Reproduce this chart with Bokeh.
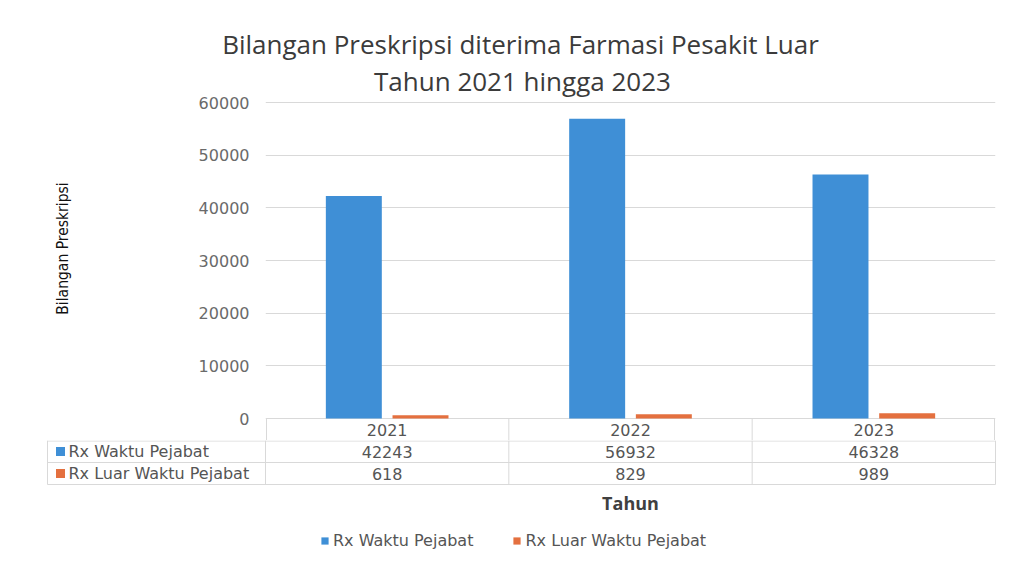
import math
from bokeh.plotting import figure
from bokeh.models import (Range1d, FactorRange, Legend, LegendItem,
                          ColumnDataSource, FixedTicker)
from bokeh.layouts import column, row
from bokeh.core.properties import value
from bokeh.transform import dodge
from bokeh.embed import file_html
from bokeh.resources import INLINE

# ---------------- data ----------------
years = ["2021", "2022", "2023"]
rx_waktu = [42243, 56932, 46328]
rx_luar = [618, 829, 989]
series_names = ["Rx Waktu Pejabat", "Rx Luar Waktu Pejabat"]
colors = ["#3f8fd6", "#e4703f"]
title_lines = ["Bilangan Preskripsi diterima Farmasi Pesakit Luar",
               "Tahun 2021 hingga 2023"]
y_label = "Bilangan Preskripsi"
x_label = "Tahun"
y_ticks = [0, 10000, 20000, 30000, 40000, 50000, 60000]

# ---------------- layout constants (pixels) ----------------
TITLE_FONT = "Open Sans"
TITLE_SIZE = "26px"
TXT_FONT = "DejaVu Sans"
NARROW = "'DejaVu Sans Condensed', 'Liberation Sans Narrow', sans-serif"
TXT_COLOR = "#555555"
TITLE_COLOR = "#3b3b3b"
LINE_C = "#d9d9d9"
WTOT = 1011
H_T = 62            # strip with the first title line
TITLE_Y = (43.5, 80.5)
ZERO_Y = 418        # pixel row of value 0
FRAME_BOT = 440     # bottom of the year row
H_B = 130           # value rows + legend
W_L = 130           # strip holding the y-axis title
FRAME_L, FRAME_R = 265, 995
PLOT_PX = 316       # pixels for the 0..60000 span
ROW_H = FRAME_BOT - ZERO_Y
H_M = FRAME_BOT - H_T
n = len(years)
PX = (FRAME_R - FRAME_L) / n   # pixels per category
y_max = max(y_ticks)
per_px = y_max / PLOT_PX

common = dict(output_backend="svg", toolbar_location=None,
              outline_line_color=None, background_fill_color=None,
              border_fill_color="white", frame_align=False)

# ---------------- first title line ----------------
pt = figure(width=WTOT, height=H_T, x_range=Range1d(0, WTOT),
            y_range=Range1d(H_T, 0), x_axis_location=None,
            y_axis_location=None, min_border=0, **common)
pt.grid.visible = False
pt.text(x=[520], y=[TITLE_Y[0]], text=[title_lines[0]], text_align="center",
        text_baseline="middle", text_font=value(TITLE_FONT),
        text_font_size=TITLE_SIZE, text_color=TITLE_COLOR)

# ---------------- y-axis title strip ----------------
pl = figure(width=W_L, height=H_M, x_range=Range1d(0, W_L),
            y_range=Range1d(FRAME_BOT, H_T), x_axis_location=None,
            y_axis_location=None, min_border=0, **common)
pl.grid.visible = False
pl.text(x=[62], y=[248], text=[y_label], angle=math.pi / 2,
        text_align="center", text_baseline="middle",
        text_font=value(NARROW), text_font_size="15.5px",
        text_color="#111111")

# ---------------- chart (plus second title line and year row) ----------------
y_min = -ROW_H * per_px
y_top = y_max + (ZERO_Y - PLOT_PX - H_T) * per_px
pa = figure(width=WTOT - W_L, height=H_M,
            x_range=FactorRange(factors=years, range_padding=0),
            y_range=Range1d(y_min, y_top),
            x_axis_location=None,
            min_border_left=FRAME_L - W_L, min_border_right=WTOT - FRAME_R,
            min_border_top=0, min_border_bottom=0, **common)

src = ColumnDataSource(dict(year=years, waktu=rx_waktu, luar=rx_luar))
pa.vbar(x=dodge("year", -0.137, range=pa.x_range), top="waktu", width=0.23,
        source=src, fill_color=colors[0], line_color=None)
pa.vbar(x=dodge("year", 0.137, range=pa.x_range), top="luar", width=0.23,
        source=src, fill_color=colors[1], line_color=None)

pa.xgrid.grid_line_color = None
pa.ygrid.grid_line_color = LINE_C
ya = pa.yaxis[0]
ya.ticker = FixedTicker(ticks=y_ticks)
ya.axis_line_color = None
ya.major_tick_line_color = None
ya.minor_tick_line_color = None
ya.major_tick_out = 0
ya.major_tick_in = 0
ya.major_label_standoff = 16
ya.major_label_text_font = TXT_FONT
ya.major_label_text_font_size = "16px"
ya.major_label_text_color = "#6a6a6a"

# second title line (inside the top of the frame, above the 60000 grid line)
pa.text(x=[(522 - FRAME_L) / PX],
        y=[y_max + (ZERO_Y - PLOT_PX - TITLE_Y[1]) * per_px],
        text=[title_lines[1]], text_align="center", text_baseline="middle",
        text_font=value(TITLE_FONT), text_font_size=TITLE_SIZE,
        text_color=TITLE_COLOR)

# year row of the table
eps = 1.0 / PX
bx = [max(min(i, n - eps), eps) for i in range(n + 1)]
pa.segment(x0=bx, y0=[0] * (n + 1), x1=bx, y1=[y_min] * (n + 1),
           line_color=LINE_C, line_width=1)
pa.text(x=years, y=[y_min / 2] * n, text=years, text_align="center",
        text_baseline="middle", text_font=value(TXT_FONT),
        text_font_size="16px", text_color=TXT_COLOR)

# ---------------- value rows, legend column, axis title, legend ----------------
pb = figure(width=WTOT, height=H_B,
            x_range=Range1d(-FRAME_L / PX, (WTOT - FRAME_L) / PX),
            y_range=Range1d(H_B, 0), x_axis_location=None,
            y_axis_location=None, min_border=0, **common)
pb.grid.visible = False

x_left = -(FRAME_L - 47) / PX
hy = [0.5, ROW_H, 2 * ROW_H]
pb.segment(x0=[x_left] * 3, y0=hy, x1=[n] * 3, y1=hy, line_color=LINE_C)
vx = list(range(n + 1)) + [x_left]
pb.segment(x0=vx, y0=[0] * (n + 2), x1=vx, y1=[2 * ROW_H] * (n + 2),
           line_color=LINE_C)

cx = [i + 0.5 for i in range(n)]
tsrc = ColumnDataSource(dict(x=cx, waktu=[str(v) for v in rx_waktu],
                             luar=[str(v) for v in rx_luar]))
for col, yy in [("waktu", ROW_H * 0.5), ("luar", ROW_H * 1.5)]:
    pb.text(x="x", y=yy, text=col, source=tsrc, text_align="center",
            text_baseline="middle", text_font=value(TXT_FONT),
            text_font_size="16px", text_color=TXT_COLOR)

sq_x = x_left + 13 / PX
lab_x = x_left + 21 / PX
keys = []
for i, (name, c) in enumerate(zip(series_names, colors)):
    yy = ROW_H * (0.5 + i)
    r = pb.rect(x=[sq_x], y=[yy], width=9, height=9, width_units="screen",
                height_units="screen", fill_color=c, line_color=None)
    keys.append(r)
    pb.text(x=[lab_x], y=[yy], text=[name], text_align="left",
            text_baseline="middle", text_font=value(TXT_FONT),
            text_font_size="16px", text_color=TXT_COLOR)

pb.text(x=[n / 2], y=[62], text=[x_label], text_align="center",
        text_baseline="middle", text_font=value(TITLE_FONT),
        text_font_size="18px", text_font_style="bold", text_color="#404040")

legend = Legend(items=[LegendItem(label=nm, renderers=[r])
                       for nm, r in zip(series_names, keys)],
                location=(320, 20), orientation="horizontal",
                padding=0, margin=0, spacing=39, glyph_width=9,
                glyph_height=9, label_standoff=4, border_line_color=None,
                background_fill_alpha=0, label_text_font=TXT_FONT,
                label_text_font_size="16px", label_text_color=TXT_COLOR)
pb.add_layout(legend)

layout = column(pt, row(pl, pa, spacing=0), pb, spacing=0)
open("out.html", "w").write(file_html(layout, INLINE))
